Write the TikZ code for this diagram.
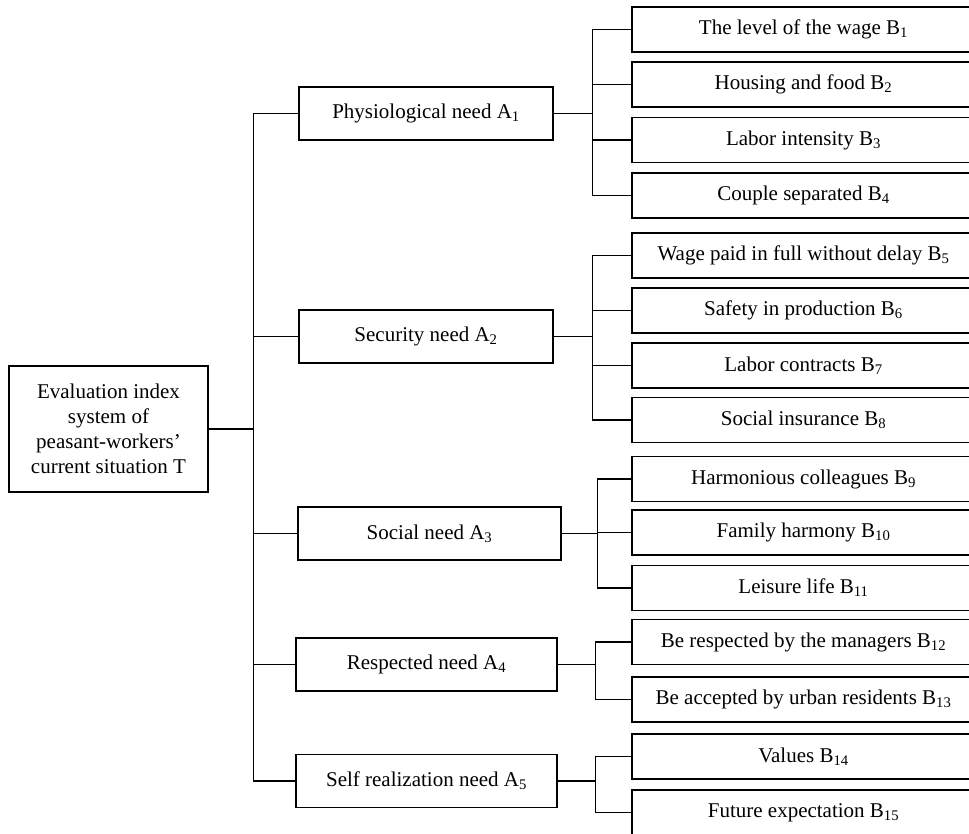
\documentclass[tikz,border=0pt]{standalone}
\usepackage{fontspec}
\setmainfont{Liberation Serif}
\newcommand{\sbs}[1]{\textsubscript{#1}}
\begin{document}
\begin{tikzpicture}[x=1pt,y=-1pt,
  every node/.style={font=\fontsize{21}{25}\selectfont},
  bx/.style={draw, line width=1.1pt, inner sep=0pt, align=center},
  abox/.style={bx, minimum height=53pt},
  bbox/.style={bx, minimum width=343pt, minimum height=45pt},
  link/.style={line width=1.1pt},
  thick link/.style={line width=1.6pt}]
\useasboundingbox (0,0) rectangle (969,834);
\clip (0,0) rectangle (969,834);
\fill[white] (0,0) rectangle (969,834);

% root
\node[bx, minimum width=199pt, minimum height=126pt] (T) at (108.5,429)
  {Evaluation index\\system of\\peasant-workers’\\current situation T};

% level A
\node[abox, minimum width=254pt] (A1) at (426,113.5) {Physiological need A\sbs{1}};
\node[abox, minimum width=254pt] (A2) at (426,336.5) {Security need A\sbs{2}};
\node[abox, minimum width=263pt] (A3) at (429.5,533.5) {Social need A\sbs{3}};
\node[abox, minimum width=261pt] (A4) at (426.5,664.5) {Respected need A\sbs{4}};
\node[abox, minimum width=261pt] (A5) at (426.5,781) {Self realization need A\sbs{5}};

% level B
\node[bbox] (B1)  at (803.5,29.5)  {The level of the wage B\sbs{1}};
\node[bbox] (B2)  at (803.5,84.5)  {Housing and food B\sbs{2}};
\node[bbox] (B3)  at (803.5,140)   {Labor intensity B\sbs{3}};
\node[bbox] (B4)  at (803.5,195.5) {Couple separated B\sbs{4}};
\node[bbox] (B5)  at (803.5,255.5) {Wage paid in full without delay B\sbs{5}};
\node[bbox] (B6)  at (803.5,310.5) {Safety in production B\sbs{6}};
\node[bbox] (B7)  at (803.5,365.5) {Labor contracts B\sbs{7}};
\node[bbox] (B8)  at (803.5,420)   {Social insurance B\sbs{8}};
\node[bbox] (B9)  at (803.5,479)   {Harmonious colleagues B\sbs{9}};
\node[bbox] (B10) at (803.5,532.5) {Family harmony B\sbs{10}};
\node[bbox] (B11) at (803.5,588)   {Leisure life B\sbs{11}};
\node[bbox] (B12) at (803.5,642)   {Be respected by the managers B\sbs{12}};
\node[bbox] (B13) at (803.5,699.5) {Be accepted by urban residents B\sbs{13}};
\node[bbox] (B14) at (803.5,756.5) {Values B\sbs{14}};
\node[bbox] (B15) at (803.5,812.5) {Future expectation B\sbs{15}};

% trunk
\draw[thick link] (T.east) -- ++(45,0) coordinate (trk);
\foreach \a in {A1,A2,A3,A4,A5} \draw[link] (\a.west) -| (trk);

% buses
\draw[link] (A1.east) -- ++(39,0) coordinate (bA1);
\draw[link] (A2.east) -- ++(39,0) coordinate (bA2);
\draw[thick link] (A3.east) -- ++(36,0) coordinate (bA3);
\draw[thick link] (A4.east) -- ++(38,0) coordinate (bA4);
\draw[thick link] (A5.east) -- ++(38,0) coordinate (bA5);
\foreach \b in {B1,B2,B3,B4} \draw[link] (\b.west) -| (bA1);
\foreach \b in {B5,B6,B7,B8} \draw[link] (\b.west) -| (bA2);
\foreach \b in {B9,B10,B11} \draw[link] (\b.west) -| (bA3);
\foreach \b in {B12,B13} \draw[link] (\b.west) -| (bA4);
\foreach \b in {B14,B15} \draw[link] (\b.west) -| (bA5);
\end{tikzpicture}
\end{document}
